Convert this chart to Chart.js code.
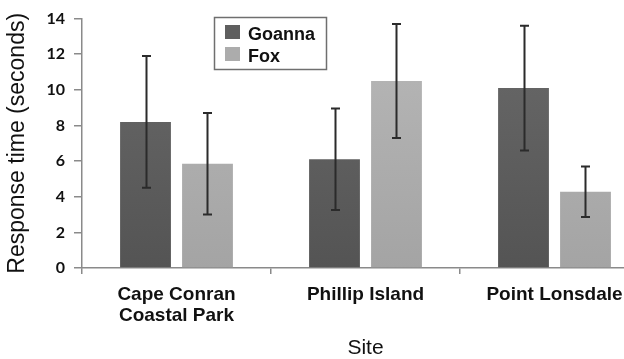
<!DOCTYPE html>
<html>
<head>
<meta charset="utf-8">
<script src="https://cdn.jsdelivr.net/npm/chart.js@4/dist/chart.umd.min.js"></script>
<style>
html,body{margin:0;padding:0;background:#fff;overflow:hidden;width:624px;height:359px;}
canvas{display:block;}
</style>
</head>
<body>
<canvas id="c" width="651" height="359"></canvas>
<script>
const sites = [["Cape Conran", "Coastal Park"], "Phillip Island", "Point Lonsdale"];
const seriesNames = ["Goanna", "Fox"];
const goannaMean = [8.2, 6.1, 10.1];
const goannaErr  = [3.7, 2.85, 3.5];
const foxMean    = [5.85, 10.5, 4.28];
const foxErr     = [2.85, 3.2, 1.42];
const yTicks     = [0, 2, 4, 6, 8, 10, 12, 14];

const goannaColor = '#5f5f5f';
const foxColor = '#acacac';

function grad(ctx, chart, top, bottom) {
  const a = chart.chartArea;
  if (!a) return top;
  const g = chart.ctx.createLinearGradient(0, a.top, 0, a.bottom);
  g.addColorStop(0, top);
  g.addColorStop(1, bottom);
  return g;
}

const errorBars = {
  id: 'errorBars',
  afterDatasetsDraw(chart) {
    const ctx = chart.ctx;
    const y = chart.scales.y;
    const errs = [goannaErr, foxErr];
    ctx.save();
    ctx.strokeStyle = '#2b2b2b';
    ctx.lineWidth = 2;
    chart.data.datasets.forEach((ds, di) => {
      const meta = chart.getDatasetMeta(di);
      meta.data.forEach((bar, i) => {
        const v = ds.data[i], e = errs[di][i];
        const x = Math.round(bar.x) + 0.5;
        const yt = y.getPixelForValue(v + e);
        const yb = y.getPixelForValue(v - e);
        ctx.beginPath();
        ctx.moveTo(x, yt); ctx.lineTo(x, yb);
        ctx.moveTo(x - 4.5, yt); ctx.lineTo(x + 4.5, yt);
        ctx.moveTo(x - 4.5, yb); ctx.lineTo(x + 4.5, yb);
        ctx.stroke();
      });
    });
    ctx.restore();
  }
};

const boxLegend = {
  id: 'boxLegend',
  afterDraw(chart) {
    const ctx = chart.ctx;
    ctx.save();
    ctx.fillStyle = '#fff';
    ctx.fillRect(214, 17, 113, 53);
    ctx.strokeStyle = '#6f6f6f';
    ctx.lineWidth = 1.5;
    ctx.strokeRect(214.5, 17.5, 112, 52);
    const cols = [goannaColor, foxColor];
    ctx.font = 'bold 18px "Liberation Sans", Arial, sans-serif';
    ctx.textBaseline = 'alphabetic';
    ctx.textAlign = 'left';
    seriesNames.forEach((n, i) => {
      const yy = 25 + i * 22;
      ctx.fillStyle = cols[i];
      ctx.fillRect(225, yy, 15, 14);
      ctx.fillStyle = '#111';
      ctx.fillText(n, 248, yy + 15);
    });
    ctx.restore();
  }
};

new Chart(document.getElementById('c'), {
  type: 'bar',
  data: {
    labels: sites,
    datasets: [
      { label: seriesNames[0], data: goannaMean,
        backgroundColor: (c) => grad(c, c.chart, '#6a6a6a', '#545454') },
      { label: seriesNames[1], data: foxMean,
        backgroundColor: (c) => grad(c, c.chart, '#b8b8b8', '#a4a4a4') }
    ]
  },
  options: {
    responsive: false,
    animation: false,
    events: [],
    categoryPercentage: 0.656,
    barPercentage: 0.82,
    layout: { padding: { top: 16, right: 2, left: 0, bottom: 0 } },
    plugins: { legend: { display: false }, tooltip: { enabled: false } },
    scales: {
      x: {
        grid: { display: true, offset: true, drawOnChartArea: false, tickLength: 6, color: '#8a8a8a', lineWidth: 1.5 },
        border: { color: '#8a8a8a', width: 1.5 },
        ticks: { color: '#111', padding: 10, maxRotation: 0, autoSkip: false,
          font: { family: '"Liberation Sans", Arial, sans-serif', weight: 'bold', size: 19, lineHeight: 1.1 } },
        title: { display: true, text: 'Site', color: '#111', padding: 0,
          font: { family: '"Liberation Sans", Arial, sans-serif', size: 21, lineHeight: 1 } },
        afterFit(s) { s.height = 91; }
      },
      y: {
        min: 0, max: 14,
        afterBuildTicks(s) { s.ticks = yTicks.map(v => ({ value: v })); },
        grid: { display: true, drawOnChartArea: false, tickLength: 8, color: '#8a8a8a', lineWidth: 1.5 },
        border: { color: '#8a8a8a', width: 1.5 },
        ticks: { color: '#111', padding: 9,
          font: { family: 'Lato, sans-serif', weight: 'bold', size: 16 } },
        title: { display: true, text: 'Response time (seconds)', color: '#111', padding: { top: 6, bottom: 0 },
          font: { family: '"Liberation Sans", Arial, sans-serif', size: 23, lineHeight: 1 } },
        afterFit(s) { s.width = 82; }
      }
    }
  },
  plugins: [errorBars, boxLegend]
});
</script>
</body>
</html>
